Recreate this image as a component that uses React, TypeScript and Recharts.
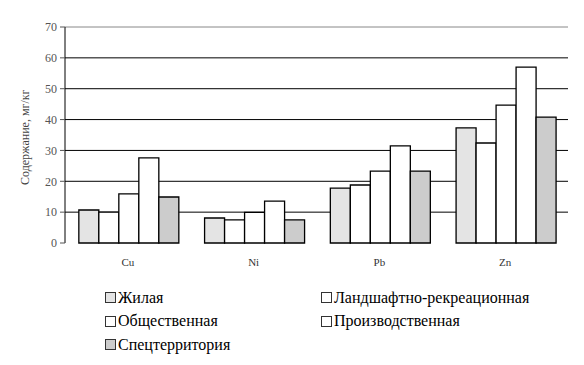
import { BarChart, Bar, XAxis, YAxis, CartesianGrid, ReferenceLine } from 'recharts'

const elements = ['Cu', 'Ni', 'Pb', 'Zn']
const residential = [10.7, 8.1, 17.8, 37.3]
const landscape = [10.0, 7.5, 18.8, 32.4]
const pub = [15.9, 9.9, 23.3, 44.7]
const industrial = [27.6, 13.6, 31.5, 57.0]
const special = [14.9, 7.5, 23.3, 40.8]
const yTicks = [0, 10, 20, 30, 40, 50, 60, 70]

const series = [
  { key: 'res', name: 'Жилая', values: residential, fill: '#e4e4e4' },
  { key: 'land', name: 'Ландшафтно-рекреационная', values: landscape, fill: '#ffffff' },
  { key: 'pub', name: 'Общественная', values: pub, fill: '#ffffff' },
  { key: 'ind', name: 'Производственная', values: industrial, fill: '#ffffff' },
  { key: 'spec', name: 'Спецтерритория', values: special, fill: '#cccccc' },
]

const data = elements.map((el, i) => {
  const row: Record<string, string | number> = { el }
  series.forEach(s => { row[s.key] = s.values[i] })
  return row
})

const font = "'Liberation Serif', 'Times New Roman', serif"

export default function App() {
  return (
    <div style={{ position: 'relative', width: 576, height: 357 }}>
      <BarChart width={576} height={270} data={data} margin={{ top: 19, right: 16, left: 0, bottom: 0 }}
        barCategoryGap="11%" barGap={0}>
        <CartesianGrid vertical={false} horizontalValues={[10, 20, 30, 40, 50, 60]} stroke="#000" strokeWidth={1} />
        <ReferenceLine y={70} stroke="#888" strokeWidth={1} />
        {/* ticks between categories */}
        <XAxis xAxisId="edges" type="number" domain={[0, 4]} ticks={[0, 1, 2, 3, 4]} height={0}
          axisLine={{ stroke: '#000' }} tickLine={{ stroke: '#000' }} tickSize={5} tick={() => <g />} />
        <XAxis dataKey="el" height={35} axisLine={false} tickLine={false} tickMargin={9}
          tick={{ fontSize: 11, fill: '#333', fontFamily: font }} />
        <YAxis yAxisId={0} domain={[0, 70]} ticks={yTicks} width={57} tickSize={5} tickMargin={3}
          axisLine={{ stroke: '#000' }} tickLine={{ stroke: '#555' }}
          tick={{ fontSize: 12, fill: '#555', fontFamily: font }}
          label={{ value: 'Содержание, мг/кг', angle: -90, position: 'insideLeft', dx: 12, dy: 50, style: { fontSize: 12, fill: '#444', fontFamily: font } }} />
        <YAxis yAxisId="right" orientation="right" width={0} domain={[0, 70]} tick={false} tickLine={false}
          axisLine={{ stroke: '#888' }} />
        {series.map(s => (
          <Bar key={s.key} dataKey={s.key} name={s.name} fill={s.fill} stroke="#000" strokeWidth={1.3}
            isAnimationActive={false} />
        ))}
      </BarChart>
      <div style={{ position: 'absolute', left: 97, top: 280, display: 'grid', gridTemplateColumns: '216px 250px', rowGap: 4.5, fontSize: 16, color: '#000', fontFamily: font }}>
        {series.map(s => (
          <div key={s.key} style={{ display: 'flex', alignItems: 'center', height: 19, fontFamily: font }}>
            <span style={{ display: 'inline-block', width: 9, height: 9, background: s.fill, border: '1px solid #333', marginRight: 2 }} />
            {s.name}
          </div>
        ))}
      </div>
    </div>
  )
}
